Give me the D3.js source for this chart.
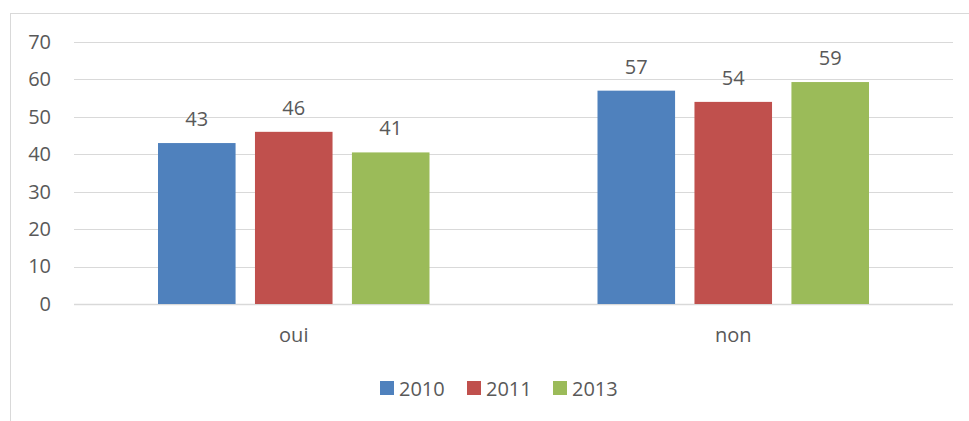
<!DOCTYPE html>
<html lang="fr">
<head>
<meta charset="UTF-8">
<title>oui / non</title>
<style>
    body { margin: 0; background: #fff; }
    text { font-family: "Open Sans", "Noto Sans", sans-serif; fill: #595959; }
</style>
</head>
<body>
<div id="chart"></div>
<script src="https://cdnjs.cloudflare.com/ajax/libs/d3/7.8.5/d3.min.js"></script>
<script>
    // data
    const categories = ["oui", "non"];
    const years = ["2010", "2011", "2013"];
    const values2010 = [43, 57];
    const values2011 = [46, 54];
    const values2013 = [40.5, 59.3];
    const yTicks = [0, 10, 20, 30, 40, 50, 60, 70];
    const colors = ["#4f81bd", "#c0504d", "#9bbb59"];

    const series = [values2010, values2011, values2013];

    const width = 969, height = 421;
    const plot = {left: 74, right: 953, top: 42, bottom: 304};
    const fontSize = 20;

    const svg = d3.select("#chart").append("svg")
        .attr("width", width)
        .attr("height", height);

    // chart frame
    svg.append("rect")
        .attr("x", 10.5).attr("y", 13.5)
        .attr("width", 970).attr("height", 420)
        .attr("fill", "none")
        .attr("stroke", "#d9d9d9");

    const x = d3.scaleBand()
        .domain(categories)
        .range([plot.left, plot.right]);

    const xInner = d3.scaleBand()
        .domain(years)
        .range([84, x.bandwidth() - 84])
        .paddingInner(0.2);

    const y = d3.scaleLinear()
        .domain([0, 70])
        .range([plot.bottom, plot.top]);

    // gridlines
    svg.append("g")
        .selectAll("line")
        .data(yTicks)
        .join("line")
        .attr("x1", plot.left).attr("x2", plot.right)
        .attr("y1", d => Math.round(y(d)) + 0.5)
        .attr("y2", d => Math.round(y(d)) + 0.5)
        .attr("stroke", "#d9d9d9")
        .attr("stroke-width", d => d === 0 ? 1.5 : 1);

    // y axis labels
    const yAxis = d3.axisLeft(y).tickValues(yTicks).tickSize(0).tickPadding(0);
    svg.append("g")
        .attr("transform", `translate(${plot.left - 23},0)`)
        .call(yAxis)
        .call(g => g.select(".domain").remove())
        .call(g => g.selectAll("text")
            .attr("font-size", fontSize)
            .attr("fill", "#595959")
            .attr("font-family", "\"Open Sans\", sans-serif"));

    // x axis labels
    const xAxis = d3.axisBottom(x).tickSize(0).tickPadding(0);
    svg.append("g")
        .attr("transform", `translate(0,${plot.bottom + 24})`)
        .call(xAxis)
        .call(g => g.select(".domain").remove())
        .call(g => g.selectAll("text")
            .attr("font-size", fontSize)
            .attr("fill", "#595959")
            .attr("font-family", "\"Open Sans\", sans-serif"));

    // bars and value labels
    series.forEach((vals, si) => {
        const g = svg.append("g");
        g.selectAll("rect")
            .data(vals)
            .join("rect")
            .attr("x", (d, i) => x(categories[i]) + xInner(years[si]))
            .attr("y", d => y(d))
            .attr("width", xInner.bandwidth())
            .attr("height", d => y(0) - y(d))
            .attr("fill", colors[si]);

        g.selectAll("text")
            .data(vals)
            .join("text")
            .attr("x", (d, i) => x(categories[i]) + xInner(years[si]) + xInner.bandwidth() / 2)
            .attr("y", d => y(d) - 17)
            .attr("text-anchor", "middle")
            .attr("font-size", fontSize)
            .text(d => Math.round(d));
    });

    // legend
    const legend = svg.append("g").attr("transform", "translate(380,381)");
    const itemX = [0, 87, 173];
    years.forEach((yr, i) => {
        legend.append("rect")
            .attr("x", itemX[i]).attr("y", 0)
            .attr("width", 14).attr("height", 14)
            .attr("fill", colors[i]);
        legend.append("text")
            .attr("x", itemX[i] + 19).attr("y", 14.5)
            .attr("font-size", fontSize)
            .text(yr);
    });
</script>
</body>
</html>
